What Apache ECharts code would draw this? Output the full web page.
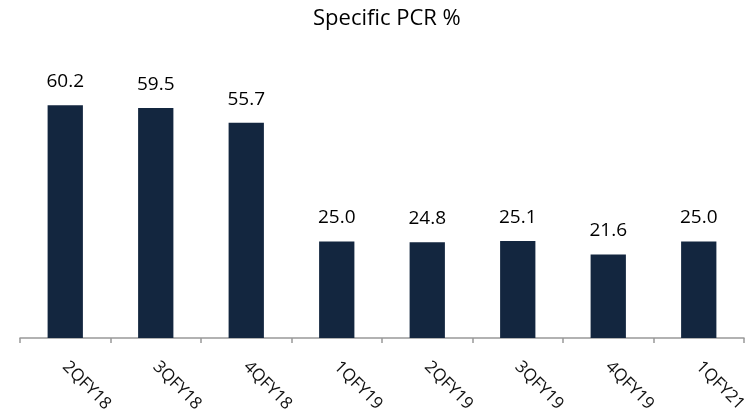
<!DOCTYPE html>
<html>
<head>
<meta charset="utf-8">
<script src="https://cdn.jsdelivr.net/npm/echarts@6/dist/echarts.min.js"></script>
<style>
  html, body { margin: 0; padding: 0; background: #fff; }
  #chart { width: 753px; height: 418px; }
</style>
</head>
<body>
<div id="chart"></div>
<script>
// Quarterly specific provision coverage ratio (%)
const quarters = ['2QFY18', '3QFY18', '4QFY18', '1QFY19', '2QFY19', '3QFY19', '4QFY19', '1QFY21'];
const pcrValues = [60.2, 59.5, 55.7, 25.0, 24.8, 25.1, 21.6, 25.0];
const chartTitle = 'Specific PCR %';

const FONT = '"Open Sans", sans-serif';
const chart = echarts.init(document.getElementById('chart'), null, { renderer: 'canvas' });

chart.setOption({
  animation: false,
  title: {
    text: chartTitle,
    left: 308,
    top: 3,
    textStyle: { fontFamily: FONT, fontSize: 22, fontWeight: 'normal', color: '#000' }
  },
  grid: { left: 20, right: 9, top: 67.5, bottom: 80, containLabel: false },
  xAxis: {
    type: 'category',
    data: quarters,
    axisLine: { lineStyle: { color: '#999', width: 1.5 } },
    axisTick: { show: true, length: 5, lineStyle: { color: '#999', width: 1.5 } },
    axisLabel: {
      rotate: -45,
      margin: 26,
      interval: 0,
      fontFamily: FONT,
      fontSize: 17,
      color: '#111'
    }
  },
  yAxis: {
    type: 'value',
    min: 0,
    max: 70,
    show: false
  },
  series: [{
    type: 'bar',
    data: pcrValues,
    barWidth: '39%',
    itemStyle: { color: '#13263f' },
    label: {
      show: true,
      position: 'top',
      distance: 14,
      fontFamily: FONT,
      fontSize: 19,
      color: '#000',
      formatter: p => p.value.toFixed(1)
    }
  }]
});
</script>
</body>
</html>
